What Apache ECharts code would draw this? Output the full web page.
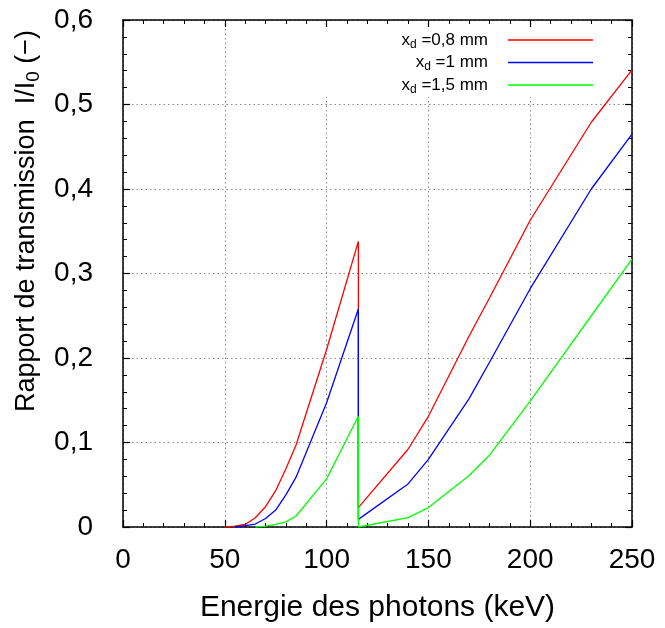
<!DOCTYPE html>
<html><head><meta charset="utf-8">
<script src="https://cdn.jsdelivr.net/npm/echarts@6/dist/echarts.min.js"></script>
<style>html,body{margin:0;padding:0;background:#fff}#c{width:665px;height:628px}</style>
</head><body><div id="c"></div>
<script>
const seriesNames = ['x_d =0,8 mm', 'x_d =1 mm', 'x_d =1,5 mm'];
const seriesColors = ['#ff0000', '#0000ff', '#00ff00'];
const energyRed = [50,55,60,65,70,75,80,85,100,115.6,115.6,140,150,170,180,200,230,250];
const valuesRed = [0,0.001,0.003,0.011,0.024,0.043,0.069,0.097,0.210,0.338,0.023,0.092,0.131,0.226,0.271,0.363,0.479,0.541];
const energyBlue = [55,60,65,70,75,80,85,100,115.6,115.6,140,150,170,180,200,230,250];
const valuesBlue = [0,0.0015,0.0035,0.010,0.020,0.038,0.059,0.147,0.258,0.009,0.051,0.080,0.152,0.195,0.282,0.400,0.465];
const energyGreen = [65,70,75,80,85,100,115.6,115.6,140,150,170,180,200,230,250];
const valuesGreen = [0,0.001,0.003,0.006,0.013,0.057,0.131,0,0.011,0.023,0.061,0.085,0.149,0.250,0.317];
const xTitle = 'Energie des photons (keV)';
const yTitle = 'Rapport de transmission  I/I{sub|0} (\u2212)';

const FONT = '"Liberation Sans", Arial, sans-serif';
const energies = [energyRed, energyBlue, energyGreen];
const values = [valuesRed, valuesBlue, valuesGreen];

const chart = echarts.init(document.getElementById('c'), null, {renderer: 'canvas'});

function axisCommon(showLabel) {
  return {
    type: 'value',
    axisLine: {show: true, onZero: false, lineStyle: {color: '#000', width: 1.5}},
    axisTick: {show: true, inside: true, length: 7, lineStyle: {color: '#000', width: 1.2}},
    minorTick: {show: true, splitNumber: 5, length: 4, lineStyle: {color: '#000', width: 1}},
    splitLine: {show: false},
    axisLabel: {show: showLabel, color: '#000', fontSize: 28, fontFamily: FONT}
  };
}
const gridSplit = {show: true, lineStyle: {color: '#888', width: 1, type: [1.5, 3]}};

const option = {
  animation: false,
  backgroundColor: '#fff',
  textStyle: {fontFamily: FONT},
  grid: {left: 123, right: 33, top: 20, bottom: 100, containLabel: false},
  xAxis: [
    Object.assign(axisCommon(true), {
      position: 'bottom', min: 0, max: 250, interval: 50,
      splitLine: gridSplit,
      axisLabel: {show: true, color: '#000', fontSize: 28, fontFamily: FONT, margin: 19},
      name: xTitle, nameLocation: 'middle', nameGap: 66,
      nameTextStyle: {color: '#000', fontSize: 30, fontFamily: FONT}
    }),
    Object.assign(axisCommon(false), {position: 'top', min: 0, max: 250, interval: 50})
  ],
  yAxis: [
    Object.assign(axisCommon(true), {
      position: 'left', min: 0, max: 0.6, interval: 0.1,
      splitLine: gridSplit,
      axisLabel: {show: true, color: '#000', fontSize: 28, fontFamily: FONT, margin: 30,
        formatter: v => v === 0 ? '0' : v.toFixed(1).replace('.', ',')}
    }),
    Object.assign(axisCommon(false), {position: 'right', min: 0, max: 0.6, interval: 0.1})
  ],
  legend: [0, 1, 2].map(i => ({
    data: [seriesNames[i]],
    orient: 'vertical', align: 'right',
    right: 72, top: 31.5 + i * 22.5, padding: 0,
    icon: 'rect', itemWidth: 85, itemHeight: 1.5,
    formatter: n => n.replace('x_d', 'x{sub|d}'),
    textStyle: {
      color: '#000', fontSize: 17, fontFamily: FONT, padding: [0, 15, 0, 0],
      rich: {sub: {fontSize: 12, fontFamily: FONT, color: '#000', padding: [9, 0, 0, 0]}}
    },
    z: 5
  })),
  graphic: [
    {type: 'rect', z: 1, silent: true, shape: {x: 300, y: 29, width: 320, height: 68}, style: {fill: '#fff'}},
    {type: 'text', z: 5, x: 27, y: 221, rotation: Math.PI / 2,
      style: {text: yTitle, fontSize: 27, fontFamily: FONT, fill: '#000', align: 'center', verticalAlign: 'middle',
        rich: {sub: {fontSize: 19, fontFamily: FONT, fill: '#000', padding: [13, 0, 0, 0]}}}}
  ],
  series: [0, 1, 2].map(i => ({
    name: seriesNames[i], type: 'line', xAxisIndex: 0, yAxisIndex: 0,
    data: energies[i].map((e, j) => [e, values[i][j]]),
    symbol: 'none', showSymbol: false, smooth: false,
    lineStyle: {color: seriesColors[i], width: 1.3}, itemStyle: {color: seriesColors[i]},
    z: 3
  }))
};
chart.setOption(option);
</script></body></html>
